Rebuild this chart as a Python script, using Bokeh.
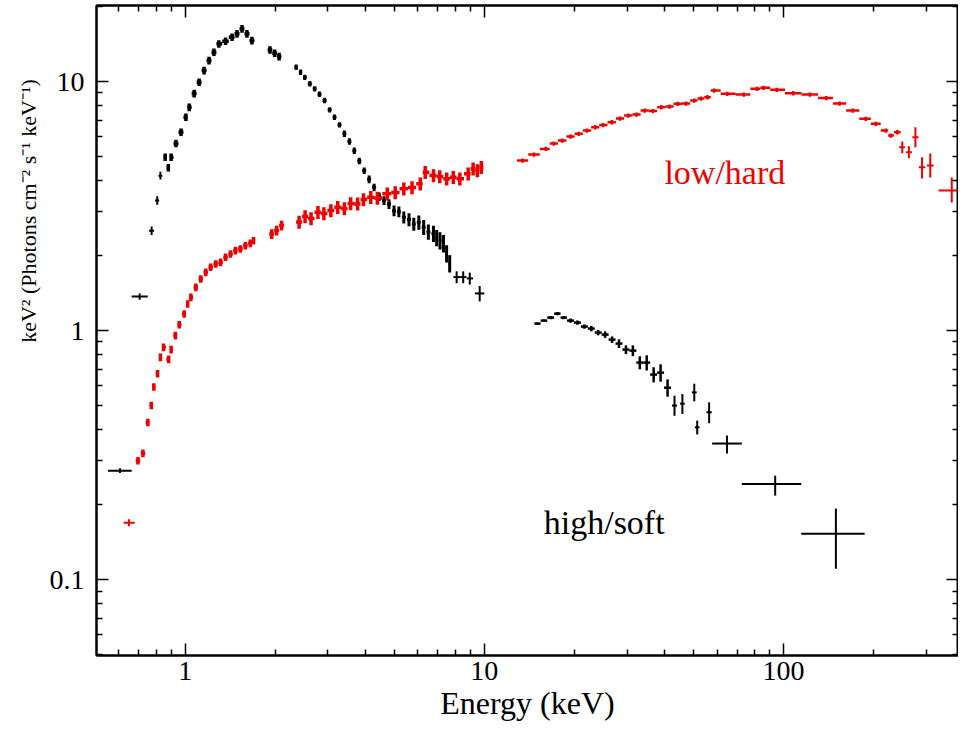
import math
import numpy as np
from bokeh.plotting import figure
from bokeh.layouts import row
from bokeh.models import Range1d, LogAxis, FixedTicker, CustomJSTickFormatter, Label
from bokeh.embed import file_html
from bokeh.resources import INLINE

# ---------------- data: high/soft state (black) ----------------
soft_pts_E   = [0.605, 0.704, 0.772, 0.806, 0.826, 8.08, 8.50, 8.94, 9.65, 43.24, 45.95, 50.35, 51.5, 56.45, 64.76, 93.87, 149.8]
soft_pts_Elo = [0.552, 0.662, 0.757, 0.792, 0.814, 7.88, 8.30, 8.74, 9.30, 42.4, 45.1, 49.4, 50.6, 55.3, 57.75, 72.6, 114.7]
soft_pts_Ehi = [0.662, 0.749, 0.787, 0.818, 0.838, 8.30, 8.72, 9.17, 10.0, 44.1, 46.8, 51.3, 52.4, 57.6, 72.6, 114.7, 186.9]
soft_pts_F   = [0.274, 1.37, 2.52, 3.33, 4.19, 1.64, 1.64, 1.62, 1.41, 0.500, 0.509, 0.565, 0.409, 0.470, 0.352, 0.242, 0.153]
soft_pts_Flo = [0.268, 1.33, 2.42, 3.20, 4.04, 1.55, 1.55, 1.53, 1.31, 0.455, 0.463, 0.520, 0.383, 0.425, 0.321, 0.2175, 0.1107]
soft_pts_Fhi = [0.280, 1.41, 2.62, 3.46, 4.34, 1.73, 1.73, 1.71, 1.51, 0.548, 0.556, 0.612, 0.435, 0.515, 0.379, 0.2616, 0.193]

soft_a_E = [0.857, 0.878, 0.897, 0.931, 0.968, 1.005, 1.031, 1.071, 1.113, 1.156, 1.201, 1.247, 1.296, 1.364, 1.434, 1.490, 1.548, 1.608, 1.671]
soft_a_F = [4.97, 4.51, 4.97, 5.64, 6.26, 7.19, 7.88, 8.95, 9.94, 11.07, 12.14, 13.11, 14.17, 14.52, 15.06, 15.55, 16.28, 15.55, 14.61]
soft_a_err = 0.035

soft_b_E = [1.92, 1.99, 2.06]
soft_b_F = [13.4, 13.0, 12.6]
soft_b_err = 0.035

soft_c_E = [2.349, 2.430, 2.51, 2.61, 2.709, 2.81, 2.924, 3.04, 3.155, 3.28, 3.405, 3.54, 3.675, 3.82, 3.966, 4.12, 4.28,
            4.45, 4.62, 4.80, 4.99, 5.18, 5.38, 5.60, 5.81, 6.04, 6.27, 6.50, 6.76, 6.93, 7.11, 7.30, 7.48, 7.66]
soft_c_F = [11.41, 10.9, 10.40, 9.80, 9.35, 8.90, 8.39, 7.70, 7.19, 6.70, 6.17, 5.75, 5.28, 4.80, 4.39, 4.05, 3.76,
            3.45, 3.33, 3.22, 3.03, 3.00, 2.85, 2.79, 2.68, 2.72, 2.60, 2.49, 2.45, 2.36, 2.30, 2.24, 2.04, 1.86]
soft_c_err = [0.025, 0.025, 0.025, 0.025, 0.025, 0.025, 0.025, 0.025, 0.025, 0.025, 0.03, 0.03, 0.03, 0.03, 0.03, 0.035, 0.035,
              0.04, 0.04, 0.045, 0.05, 0.05, 0.055, 0.06, 0.06, 0.065, 0.07, 0.07, 0.075, 0.075, 0.08, 0.08, 0.08, 0.08]

soft_d_E = [15.06, 15.80, 16.67, 17.58, 18.40, 19.42, 20.48, 21.60, 22.79, 24.03, 25.35, 26.74, 28.20, 29.75, 31.38,
            33.11, 34.91, 36.83, 38.85, 40.99]
soft_d_F = [1.067, 1.097, 1.128, 1.170, 1.128, 1.097, 1.077, 1.038, 1.019, 0.982, 0.964, 0.920, 0.887, 0.839, 0.831,
            0.744, 0.744, 0.666, 0.678, 0.590]
soft_d_err = [0.01, 0.01, 0.015, 0.015, 0.015, 0.02, 0.02, 0.02, 0.025, 0.025, 0.03, 0.03, 0.04, 0.04, 0.05,
              0.06, 0.07, 0.07, 0.08, 0.08]

# ---------------- data: low/hard state (red) ----------------
hard_pts_E   = [0.648, 249.7, 262.8, 276.3, 290.8, 309.8, 365.5]
hard_pts_Elo = [0.623, 244.0, 257.0, 270.0, 284.0, 302.0, 330.3]
hard_pts_Ehi = [0.678, 255.0, 269.0, 283.0, 298.0, 318.0, 404.5]
hard_pts_F   = [0.1694, 5.446, 5.201, 5.974, 4.527, 4.598, 3.65]
hard_pts_Flo = [0.164, 5.15, 4.92, 5.446, 4.077, 4.116, 3.266]
hard_pts_Fhi = [0.175, 5.75, 5.50, 6.554, 4.966, 5.138, 4.116]

hard_a_E = [0.695, 0.722, 0.750, 0.770, 0.785, 0.808, 0.826, 0.846, 0.880, 0.897, 0.927, 0.955, 0.992, 1.019,
            1.044, 1.085, 1.127, 1.171, 1.216, 1.264, 1.313, 1.364, 1.417, 1.472, 1.529, 1.589, 1.651, 1.692]
hard_a_F = [0.3005, 0.3215, 0.428, 0.501, 0.594, 0.672, 0.781, 0.857, 0.767, 0.839, 0.955, 1.057, 1.167, 1.280,
            1.36, 1.492, 1.613, 1.714, 1.796, 1.853, 1.88, 1.97, 2.03, 2.096, 2.129, 2.194, 2.242, 2.298]
hard_a_err = 0.035

hard_b_E = [1.946, 2.021, 2.100]
hard_b_F = [2.445, 2.521, 2.64]
hard_b_err = 0.045

hard_c_E = [2.403, 2.516, 2.634, 2.778, 2.908, 3.068, 3.236, 3.405, 3.573, 3.769, 3.945, 4.172, 4.389, 4.737,
            5.035, 5.381, 5.733, 6.107, 6.344, 6.763, 7.096, 7.484, 7.877, 8.283, 8.831, 9.176, 9.480, 9.774]
hard_c_F = [2.728, 2.870, 2.818, 2.987, 2.951, 3.034, 3.128, 3.09, 3.236, 3.227, 3.358, 3.430, 3.405, 3.540,
            3.583, 3.709, 3.753, 3.883, 4.322, 4.193, 4.155, 4.067, 4.128, 4.067, 4.259, 4.461, 4.392, 4.527]
hard_c_err = 0.06

hard_d_E = [13.43, 14.64, 16.05, 17.06, 18.22, 19.42, 20.69, 22.05, 23.49, 24.97, 26.69, 28.42, 30.28, 32.28, 34.39,
            36.64, 39.06, 41.61, 44.35, 47.27, 50.35, 52.99, 55.73, 58.65, 64.91, 73.72, 81.57, 85.85, 95.02, 107.9,
            122.6, 139.1, 154.1, 170.5, 188.7, 203.7, 219.8, 228.4, 240.4]
hard_d_F = [4.815, 5.09, 5.366, 5.636, 5.794, 6.013, 6.166, 6.356, 6.554, 6.688, 6.864, 7.103, 7.303, 7.371, 7.648,
            7.613, 7.886, 7.937, 8.137, 8.16, 8.389, 8.545, 8.648, 9.203, 8.925, 8.867, 9.347, 9.434, 9.262, 8.974,
            8.867, 8.585, 8.16, 7.648, 7.085, 6.764, 6.356, 6.07, 6.258]
hard_d_err = 0.02

x_major = [1, 10, 100]
y_major = [0.1, 1, 10]

BLACK = "#000000"
RED = "#f00000"
FONT = "Liberation Serif"
H = 734
LW = 44  # width of the strip holding the rotated y-axis title

p = figure(width=958 - LW, height=H, x_axis_type="log", y_axis_type="log",
           x_range=Range1d(0.505, 385), y_range=Range1d(0.0496, 20.2),
           output_backend="svg", toolbar_location=None,
           min_border_left=96 - LW, min_border_right=0, min_border_top=5, min_border_bottom=79)
p.grid.visible = False
p.outline_line_color = "black"
p.outline_line_width = 2
p.background_fill_color = "white"
p.border_fill_color = "white"

x_minor = [m * 10.0 ** k for k in range(-1, 3) for m in range(2, 10)]
y_minor = [m * 10.0 ** k for k in range(-2, 2) for m in range(2, 10)]
xt = FixedTicker(ticks=x_major, minor_ticks=x_minor)
yt = FixedTicker(ticks=y_major, minor_ticks=y_minor)
fmt = CustomJSTickFormatter(code="return String(Math.round(tick*10)/10);")


def style(ax):
    ax.major_tick_in = 12
    ax.major_tick_out = 0
    ax.minor_tick_in = 6
    ax.minor_tick_out = 0
    ax.major_tick_line_width = 1.5
    ax.minor_tick_line_width = 1.5
    ax.axis_line_width = 2
    ax.major_label_text_font = FONT
    ax.major_label_text_color = "black"


style(p.xaxis[0])
style(p.yaxis[0])
p.xaxis.ticker = xt
p.yaxis.ticker = yt
p.xaxis.formatter = fmt
p.yaxis.formatter = fmt
p.xaxis.major_label_text_font_size = "28px"
p.yaxis.major_label_text_font_size = "28px"
p.xaxis.major_label_standoff = 6
p.yaxis.major_label_standoff = 12
p.xaxis.axis_label = "Energy (keV)"
p.xaxis.axis_label_text_font = FONT
p.xaxis.axis_label_text_font_size = "32px"
p.xaxis.axis_label_text_font_style = "normal"
p.xaxis.axis_label_text_color = "black"
p.xaxis.axis_label_standoff = 2

for side, tk in (("above", xt), ("right", yt)):
    ax = LogAxis(ticker=tk, formatter=CustomJSTickFormatter(code="return '';"),
                 major_label_text_font_size="0px", major_label_standoff=0)
    style(ax)
    p.add_layout(ax, side)


def draw_seg(E, F, err, color, fill=1.0, lw=2):
    E = np.asarray(E, float)
    F = np.asarray(F, float)
    lg = np.log10(E)
    d = np.diff(lg)
    dl = np.concatenate([[d[0]], d]) / 2 * fill
    dr = np.concatenate([d, [d[-1]]]) / 2 * fill
    lo, hi = 10 ** (lg - dl), 10 ** (lg + dr)
    er = np.broadcast_to(np.asarray(err, float), E.shape)
    p.segment(lo, F, hi, F, line_color=color, line_width=lw)
    p.segment(E, F * (1 - er), E, F * (1 + er), line_color=color, line_width=lw)


def draw_pts(E, Elo, Ehi, F, Flo, Fhi, color, lw=2):
    p.segment(Elo, F, Ehi, F, line_color=color, line_width=lw)
    p.segment(E, Flo, E, Fhi, line_color=color, line_width=lw)


# black (high/soft)
draw_seg(soft_a_E, soft_a_F, soft_a_err, BLACK, fill=1.0, lw=3.5)
draw_seg(soft_b_E, soft_b_F, soft_b_err, BLACK, fill=1.0, lw=3.5)
draw_seg(soft_c_E, soft_c_F, soft_c_err, BLACK, fill=0.8, lw=3)
draw_seg(soft_d_E, soft_d_F, soft_d_err, BLACK, fill=1.0, lw=2.5)
draw_pts(soft_pts_E, soft_pts_Elo, soft_pts_Ehi, soft_pts_F, soft_pts_Flo, soft_pts_Fhi, BLACK)

# red (low/hard)
draw_seg(hard_a_E, hard_a_F, hard_a_err, RED, fill=0.9, lw=3.5)
draw_seg(hard_b_E, hard_b_F, hard_b_err, RED, fill=1.0, lw=3.5)
draw_seg(hard_c_E, hard_c_F, hard_c_err, RED, fill=1.0, lw=3.5)
draw_seg(hard_d_E, hard_d_F, hard_d_err, RED, fill=1.0, lw=2.5)
draw_pts(hard_pts_E, hard_pts_Elo, hard_pts_Ehi, hard_pts_F, hard_pts_Flo, hard_pts_Fhi, RED)

p.add_layout(Label(x=40.0, y=4.31, text="low/hard", text_color=RED, text_font=FONT,
                   text_font_size="34px", text_align="left", text_baseline="middle"))
p.add_layout(Label(x=15.8, y=0.169, text="high/soft", text_color=BLACK, text_font=FONT,
                   text_font_size="34px", text_align="left", text_baseline="middle"))

# narrow strip on the left carrying the y-axis title (positioned like the original, above centre)
yl = figure(width=LW, height=H, x_range=Range1d(0, LW), y_range=Range1d(0, H),
            output_backend="svg", toolbar_location=None,
            min_border_left=0, min_border_right=0, min_border_top=0, min_border_bottom=0)
yl.axis.visible = False
yl.grid.visible = False
yl.outline_line_color = None
yl.background_fill_color = "white"
yl.border_fill_color = "white"
yl.add_layout(Label(x=28, y=H - 232, text="keV² (Photons cm⁻² s⁻¹ keV⁻¹)", angle=math.pi / 2,
                    text_color=BLACK, text_font=FONT, text_font_size="22px",
                    text_align="center", text_baseline="middle"))

layout = row(yl, p, spacing=0)
open("out.html", "w").write(file_html(layout, INLINE))
